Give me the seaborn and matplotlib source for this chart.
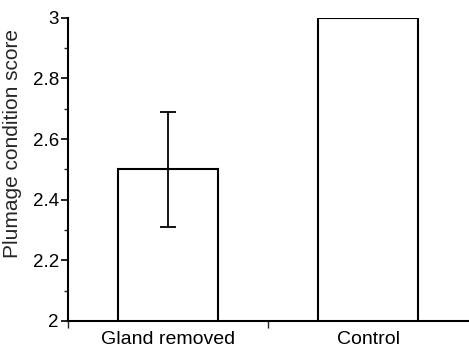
import pandas as pd
import matplotlib.pyplot as plt
import seaborn as sns
from matplotlib.ticker import MultipleLocator, FixedLocator

groups = ['Gland removed', 'Control']
scores = [2.5, 3.0]
errors = [0.19, 0.0]

df = pd.DataFrame({'group': groups, 'score': scores})

sns.set_style('ticks')
plt.rcParams['font.family'] = ['Liberation Sans', 'DejaVu Sans']

fig = plt.figure(figsize=(4.69, 3.5), dpi=100)
ax = fig.add_axes([0.145, 0.083, 0.853, 0.866])

sns.barplot(data=df, x='group', y='score', color='white', edgecolor='black',
            linewidth=1.5, width=0.5, errorbar=None, ax=ax)
ax.errorbar([0], scores[:1], yerr=errors[:1], fmt='none', ecolor='black',
            elinewidth=1.3, capsize=6, capthick=1.3)

ax.set_ylim(2, 3)
ax.set_xlim(-0.5, 1.5)
ax.set_yticks([2, 2.2, 2.4, 2.6, 2.8, 3])
ax.set_yticklabels(['2', '2.2', '2.4', '2.6', '2.8', '3'])
ax.yaxis.set_minor_locator(MultipleLocator(0.1))
ax.xaxis.set_minor_locator(FixedLocator([-0.5, 0.5]))
ax.tick_params(axis='x', which='major', length=0, pad=7.5, labelsize=14)
ax.tick_params(axis='x', which='minor', length=5, width=1)
ax.tick_params(axis='y', which='major', length=5, width=1.2, pad=1.5, labelsize=13.5)
ax.tick_params(axis='y', which='minor', length=3, width=1)
ax.tick_params(colors='black')
ax.set_xlabel('')
ax.set_ylabel('Plumage condition score', fontsize=15)
ax.yaxis.set_label_coords(-0.115, 0.585)
sns.despine(ax=ax)
for s in ['left', 'bottom']:
    ax.spines[s].set_linewidth(1.5)
    ax.spines[s].set_color('black')

fig.savefig('out.png', dpi=100)
